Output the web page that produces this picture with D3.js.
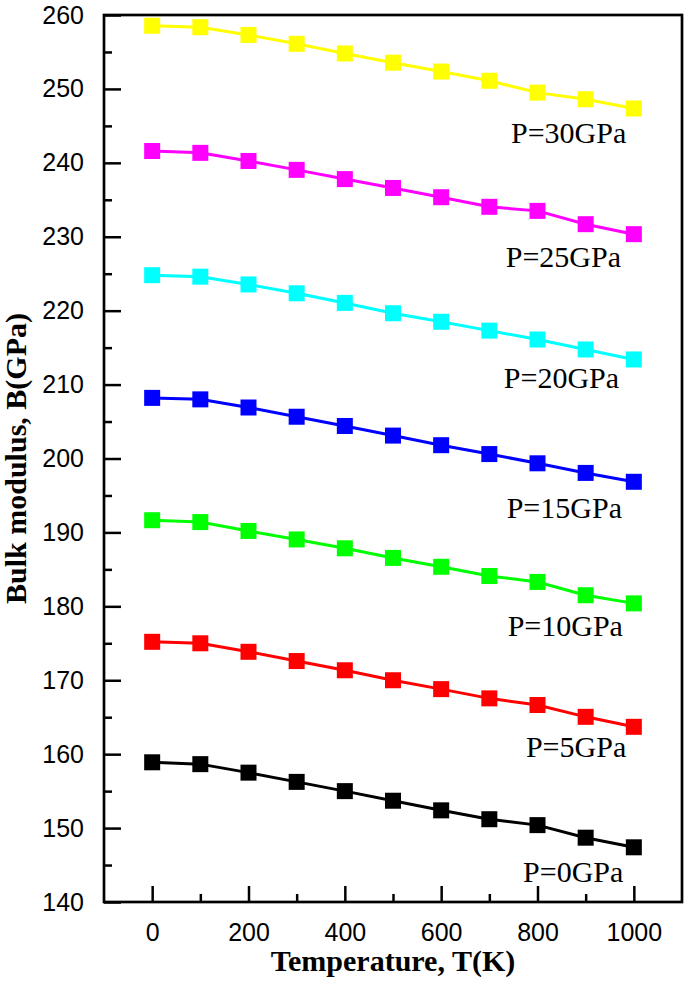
<!DOCTYPE html>
<html>
<head>
<meta charset="utf-8">
<script src="https://cdn.jsdelivr.net/npm/d3@7"></script>
<style>
  html, body { margin: 0; padding: 0; background: #fff; }
  svg { display: block; }
</style>
</head>
<body>
<svg id="chart" width="685" height="983"></svg>
<script>
const temperatures = [0, 100, 200, 300, 400, 500, 600, 700, 800, 900, 1000];
const seriesNames = ["P=0GPa", "P=5GPa", "P=10GPa", "P=15GPa", "P=20GPa", "P=25GPa", "P=30GPa"];
const seriesColors = ["#000000", "#ff0000", "#00ff00", "#0000ff", "#00ffff", "#ff00ff", "#ffff00"];
const b0GPa  = [158.9, 158.65, 157.5, 156.25, 155.0, 153.7, 152.4, 151.2, 150.4, 148.7, 147.4];
const b5GPa  = [175.2, 175.0, 173.85, 172.6, 171.35, 170.0, 168.8, 167.55, 166.65, 165.05, 163.7];
const b10GPa = [191.65, 191.4, 190.2, 189.05, 187.85, 186.55, 185.35, 184.1, 183.3, 181.5, 180.4];
const b15GPa = [208.2, 208.0, 206.9, 205.65, 204.4, 203.1, 201.8, 200.6, 199.35, 198.05, 196.85];
const b20GPa = [224.8, 224.6, 223.55, 222.35, 221.05, 219.65, 218.5, 217.3, 216.1, 214.75, 213.4];
const b25GPa = [241.6, 241.35, 240.25, 239.05, 237.8, 236.6, 235.35, 234.05, 233.5, 231.7, 230.35];
const b30GPa = [258.55, 258.35, 257.3, 256.1, 254.8, 253.55, 252.35, 251.1, 249.5, 248.6, 247.35];
const xTicks = [0, 200, 400, 600, 800, 1000];
const yTicks = [140, 150, 160, 170, 180, 190, 200, 210, 220, 230, 240, 250, 260];
const xTitle = "Temperature, T(K)";
const yTitle = "Bulk modulus, B(GPa)";

const seriesValues = [b0GPa, b5GPa, b10GPa, b15GPa, b20GPa, b25GPa, b30GPa];
// label anchor positions (left edge, baseline) in data space per series
const labelPos = [
  {x: 770, y: 142.75},
  {x: 776, y: 159.65},
  {x: 738, y: 176.0},
  {x: 736, y: 191.9},
  {x: 730, y: 209.5},
  {x: 734, y: 225.95},
  {x: 745, y: 242.65}
];

const svg = d3.select("#chart");
const mLeft = 104, mRight = 682, mTop = 15, mBottom = 902;

const x = d3.scaleLinear().domain([-100, 1100]).range([mLeft, mRight]);
const y = d3.scaleLinear().domain([140, 260]).range([mBottom, mTop]);

const axisColor = "#000";
const tickFont = "'Liberation Sans', Arial, sans-serif";
const serif = "'Liberation Serif', 'Times New Roman', serif";

// X axis
const xAxis = d3.axisBottom(x).tickValues(xTicks).tickSizeInner(-16).tickSizeOuter(0).tickPadding(21)
  .tickFormat(d3.format("d"));
const gx = svg.append("g").attr("transform", `translate(0,${mBottom})`).call(xAxis);
gx.select(".domain").remove();
gx.selectAll(".tick line").attr("stroke", axisColor).attr("stroke-width", 2.5);
gx.selectAll(".tick text").attr("font-family", tickFont).attr("font-size", 25).attr("fill", "#000");

const xMinor = d3.axisBottom(x).tickValues([100, 300, 500, 700, 900]).tickSizeInner(-8).tickSizeOuter(0).tickFormat("");
const gxm = svg.append("g").attr("transform", `translate(0,${mBottom})`).call(xMinor);
gxm.select(".domain").remove();
gxm.selectAll(".tick line").attr("stroke", axisColor).attr("stroke-width", 2.5);

// Y axis
const yAxis = d3.axisLeft(y).tickValues(yTicks).tickSizeInner(-17).tickSizeOuter(0).tickPadding(20)
  .tickFormat(d3.format("d"));
const gy = svg.append("g").attr("transform", `translate(${mLeft},0)`).call(yAxis);
gy.select(".domain").remove();
gy.selectAll(".tick line").attr("stroke", axisColor).attr("stroke-width", 2.5);
gy.selectAll(".tick text").attr("font-family", tickFont).attr("font-size", 25).attr("fill", "#000");

const yMinor = d3.axisLeft(y).tickValues(d3.range(145, 260, 10)).tickSizeInner(-8).tickSizeOuter(0).tickFormat("");
const gym = svg.append("g").attr("transform", `translate(${mLeft},0)`).call(yMinor);
gym.select(".domain").remove();
gym.selectAll(".tick line").attr("stroke", axisColor).attr("stroke-width", 2.5);

// Frame
svg.append("rect")
  .attr("x", mLeft).attr("y", mTop)
  .attr("width", mRight - mLeft).attr("height", mBottom - mTop)
  .attr("fill", "none").attr("stroke", axisColor).attr("stroke-width", 2.7);

// Series
const line = d3.line().x((d, i) => x(temperatures[i])).y(d => y(d));
const msize = 16;
seriesValues.forEach((vals, si) => {
  const c = seriesColors[si];
  svg.append("path").datum(vals)
    .attr("d", line).attr("fill", "none").attr("stroke", c).attr("stroke-width", 3);
  svg.append("g").selectAll("rect").data(vals).join("rect")
    .attr("x", (d, i) => x(temperatures[i]) - msize / 2)
    .attr("y", d => y(d) - msize / 2)
    .attr("width", msize).attr("height", msize)
    .attr("fill", c);
  const lp = labelPos[si];
  svg.append("text")
    .attr("x", x(lp.x)).attr("y", y(lp.y))
    .attr("text-anchor", "start")
    .attr("font-family", serif).attr("font-size", 30)
    .attr("fill", "#000")
    .text(seriesNames[si]);
});

// Axis titles
svg.append("text")
  .attr("x", (mLeft + mRight) / 2).attr("y", 971)
  .attr("text-anchor", "middle")
  .attr("font-family", serif).attr("font-weight", "bold").attr("font-size", 30)
  .attr("fill", "#000")
  .text(xTitle);

svg.append("text")
  .attr("transform", `translate(26,${(mTop + mBottom) / 2}) rotate(-90)`)
  .attr("text-anchor", "middle")
  .attr("font-family", serif).attr("font-weight", "bold").attr("font-size", 30)
  .attr("fill", "#000")
  .text(yTitle);
</script>
</body>
</html>
